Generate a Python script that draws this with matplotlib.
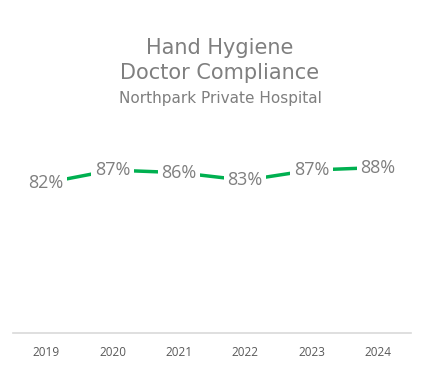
import matplotlib.pyplot as plt

# Data
years = ['2019', '2020', '2021', '2022', '2023', '2024']
compliance = [82, 87, 86, 83, 87, 88]

W, H = 424, 365
fig = plt.figure(figsize=(W / 100, H / 100), dpi=100)
ax = fig.add_axes([13 / W, (H - 333) / H, (411 - 13) / W, (333 - 137) / H])

x = list(range(len(years)))
ax.plot(x, compliance, color='#00b050', lw=2.5, solid_capstyle='butt', zorder=1)

# value labels sit on the points with a white box, breaking the line
for xi, v in zip(x, compliance):
    ax.text(xi, v, f'{v}%', ha='center', va='center', fontsize=13,
            color='#7f7f7f', family='Open Sans', zorder=3,
            bbox=dict(boxstyle='square,pad=0.2', fc='white', ec='none'))

ax.set_xlim(-0.5, len(years) - 0.5)
ax.set_ylim(23, 100)
ax.set_xticks(x)
ax.set_xticklabels(years, fontsize=8.5, color='#595959', family='Open Sans')
ax.tick_params(axis='x', length=0, pad=9)
ax.set_yticks([])
for s in ['top', 'right', 'left']:
    ax.spines[s].set_visible(False)
ax.spines['bottom'].set_color('#d9d9d9')
ax.spines['bottom'].set_linewidth(1.2)

# titles
fig.text(220 / W, 1 - 48 / H, 'Hand Hygiene', ha='center', va='center',
         fontsize=15, color='#7f7f7f', family='DejaVu Sans')
fig.text(220 / W, 1 - 73 / H, 'Doctor Compliance', ha='center', va='center',
         fontsize=15, color='#7f7f7f', family='DejaVu Sans')
fig.text(220 / W, 1 - 98 / H, 'Northpark Private Hospital', ha='center', va='center',
         fontsize=11, color='#7f7f7f', family='DejaVu Sans')

fig.savefig('out.png', dpi=100)
